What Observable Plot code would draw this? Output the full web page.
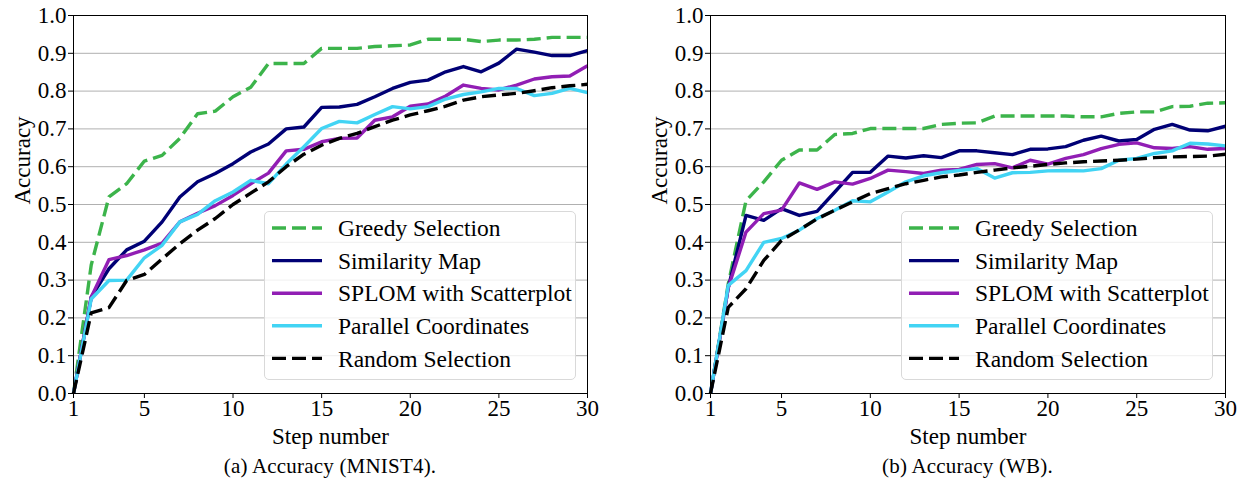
<!DOCTYPE html>
<html>
<head>
<meta charset="utf-8">
<script src="https://cdn.jsdelivr.net/npm/d3@7"></script>
<script src="https://cdn.jsdelivr.net/npm/@observablehq/plot@0.6"></script>
<style>
  html, body { margin: 0; padding: 0; background: #fff; }
  #root { position: relative; width: 1243px; height: 487px; overflow: hidden; font-family: "Liberation Serif", "Times New Roman", Times, serif; color: #000; }
  #root svg, #root svg text { font-family: "Liberation Serif", "Times New Roman", Times, serif !important; }
  .panel { position: absolute; top: 0; height: 487px; }
  .caption { position: absolute; font-size: 21px; letter-spacing: 0.2px; white-space: nowrap; transform: translate(-50%, -50%); }
  .legend { position: absolute; background: rgba(255,255,255,0.8); border: 1px solid #d9d9d9; border-radius: 5px; box-sizing: border-box; }
</style>
</head>
<body>
<div id="root"></div>
<script>
const steps = [1,2,3,4,5,6,7,8,9,10,11,12,13,14,15,16,17,18,19,20,21,22,23,24,25,26,27,28,29,30];
const xTicks = [1,5,10,15,20,25,30];
const yTicks = [0,0.1,0.2,0.3,0.4,0.5,0.6,0.7,0.8,0.9,1.0];
const xLabel = "Step number";
const yLabel = "Accuracy";

const seriesNames = ["Greedy Selection","Similarity Map","SPLOM with Scatterplot","Parallel Coordinates","Random Selection"];
const seriesColors = ["#3cb44b","#000075","#911eb4","#42d4f4","#000000"];
const seriesDashes = ["14,6",null,null,null,"14,6"];

// (a) MNIST4
const mnistGreedy   = [0,0.34,0.52,0.555,0.615,0.63,0.675,0.74,0.747,0.785,0.81,0.873,0.873,0.873,0.913,0.913,0.913,0.918,0.92,0.922,0.937,0.937,0.937,0.931,0.935,0.935,0.937,0.942,0.942,0.942];
const mnistSim      = [0,0.255,0.33,0.38,0.403,0.454,0.52,0.56,0.582,0.608,0.639,0.66,0.70,0.705,0.757,0.758,0.765,0.785,0.807,0.823,0.829,0.851,0.865,0.851,0.874,0.911,0.903,0.894,0.894,0.907];
const mnistSplom    = [0,0.255,0.354,0.365,0.38,0.398,0.454,0.477,0.497,0.524,0.555,0.583,0.642,0.646,0.666,0.675,0.676,0.723,0.732,0.76,0.766,0.787,0.816,0.807,0.803,0.816,0.832,0.838,0.84,0.867];
const mnistParallel = [0,0.25,0.299,0.30,0.359,0.392,0.454,0.474,0.51,0.533,0.564,0.555,0.607,0.653,0.701,0.72,0.716,0.738,0.759,0.753,0.759,0.779,0.791,0.798,0.807,0.807,0.788,0.794,0.807,0.796];
const mnistRandom   = [0,0.213,0.227,0.299,0.315,0.356,0.396,0.432,0.463,0.50,0.53,0.56,0.60,0.633,0.657,0.675,0.688,0.706,0.723,0.737,0.748,0.76,0.776,0.785,0.79,0.794,0.801,0.809,0.814,0.818];

// (b) WB
const wbGreedy   = [0,0.29,0.51,0.56,0.617,0.644,0.644,0.685,0.688,0.701,0.701,0.701,0.701,0.712,0.715,0.716,0.734,0.734,0.734,0.734,0.734,0.732,0.732,0.741,0.745,0.745,0.759,0.76,0.768,0.769];
const wbSim      = [0,0.28,0.471,0.458,0.489,0.471,0.482,0.533,0.585,0.585,0.628,0.623,0.629,0.624,0.642,0.642,0.637,0.632,0.646,0.647,0.653,0.67,0.681,0.668,0.672,0.699,0.712,0.697,0.695,0.707];
const wbSplom    = [0,0.28,0.427,0.476,0.485,0.557,0.54,0.56,0.554,0.569,0.591,0.587,0.582,0.591,0.593,0.606,0.608,0.597,0.617,0.607,0.622,0.632,0.648,0.659,0.663,0.65,0.648,0.653,0.646,0.648];
const wbParallel = [0,0.286,0.325,0.40,0.41,0.432,0.463,0.485,0.51,0.507,0.533,0.56,0.576,0.584,0.59,0.595,0.57,0.584,0.585,0.589,0.59,0.589,0.595,0.617,0.622,0.635,0.642,0.662,0.66,0.655];
const wbRandom   = [0,0.228,0.277,0.352,0.405,0.433,0.462,0.485,0.507,0.529,0.542,0.555,0.564,0.573,0.578,0.585,0.591,0.597,0.601,0.606,0.61,0.613,0.615,0.617,0.62,0.624,0.626,0.627,0.628,0.633];

const panels = [
  {left: 0, width: 621, marginLeft: 73, marginRight: 34, caption: "(a) Accuracy (MNIST4).",
   series: [mnistGreedy, mnistSim, mnistSplom, mnistParallel, mnistRandom], legendLeft: 264},
  {left: 621, width: 622, marginLeft: 89, marginRight: 18, caption: "(b) Accuracy (WB).",
   series: [wbGreedy, wbSim, wbSplom, wbParallel, wbRandom], legendLeft: 280}
];

const FONT = "'Liberation Serif', 'Times New Roman', Times, serif";
const root = document.getElementById("root");
const H = 450, mTop = 15, mBottom = 57;

for (const p of panels) {
  const div = document.createElement("div");
  div.className = "panel";
  div.style.left = p.left + "px";
  div.style.width = p.width + "px";
  root.appendChild(div);

  const lineMarks = p.series.map((vals, i) =>
    Plot.lineY(vals.map((v, j) => ({step: steps[j], acc: v})), {
      x: "step", y: "acc", stroke: seriesColors[i], strokeWidth: 3.4,
      strokeDasharray: seriesDashes[i] || undefined, strokeLinejoin: "round", strokeLinecap: "butt"
    })
  );

  const chart = Plot.plot({
    width: p.width, height: H,
    marginLeft: p.marginLeft, marginRight: p.marginRight, marginTop: mTop, marginBottom: mBottom,
    style: {fontFamily: FONT, fontSize: "23px", background: "transparent", color: "#000", overflow: "visible"},
    x: {domain: [1, 30]},
    y: {domain: [0, 1]},
    marks: [
      Plot.gridY(yTicks, {stroke: "#b0b0b0", strokeOpacity: 1, strokeWidth: 1}),
      ...lineMarks,
      Plot.frame({stroke: "#000", strokeWidth: 1}),
      Plot.axisX(xTicks, {tickSize: 5, tickPadding: 1, label: null, fontSize: 23, tickFormat: d => String(d)}),
      Plot.axisY(yTicks, {tickSize: 5, tickPadding: 2, label: null, fontSize: 23, tickFormat: d3.format(".1f")}),
      Plot.text([xLabel], {text: d => d, frameAnchor: "bottom", dy: 43, lineAnchor: "middle", fontSize: 23, fill: "#000"}),
      Plot.text([yLabel], {text: d => d, frameAnchor: "left", dx: -51, rotate: -90, lineAnchor: "middle", fontSize: 23, fill: "#000"})
    ]
  });
  chart.style.position = "absolute";
  chart.style.left = "0px";
  chart.style.top = "0px";
  div.appendChild(chart);

  // legend
  const leg = document.createElement("div");
  leg.className = "legend";
  leg.style.left = p.legendLeft + "px";
  leg.style.top = "211px";
  leg.style.width = "312px";
  leg.style.height = "169px";
  const ns = "http://www.w3.org/2000/svg";
  const svg = document.createElementNS(ns, "svg");
  svg.setAttribute("width", 310);
  svg.setAttribute("height", 167);
  svg.style.position = "absolute";
  svg.style.left = "0px";
  svg.style.top = "0px";
  seriesNames.forEach((name, i) => {
    const cy = 16 + i * 32.6;
    const ln = document.createElementNS(ns, "line");
    ln.setAttribute("x1", 7); ln.setAttribute("x2", 57);
    ln.setAttribute("y1", cy); ln.setAttribute("y2", cy);
    ln.setAttribute("stroke", seriesColors[i]);
    ln.setAttribute("stroke-width", 3.4);
    if (seriesDashes[i]) ln.setAttribute("stroke-dasharray", seriesDashes[i]);
    svg.appendChild(ln);
    const tx = document.createElementNS(ns, "text");
    tx.setAttribute("x", 73);
    tx.setAttribute("y", cy);
    tx.setAttribute("dy", "0.35em");
    tx.style.fontFamily = FONT;
    tx.style.fontSize = "23.5px";
    tx.textContent = name;
    svg.appendChild(tx);
  });
  leg.appendChild(svg);
  div.appendChild(leg);

  const cap = document.createElement("div");
  cap.className = "caption";
  cap.textContent = p.caption;
  cap.style.left = (p.marginLeft + (p.width - p.marginLeft - p.marginRight) / 2) + "px";
  cap.style.top = "466px";
  div.appendChild(cap);
}
</script>
</body>
</html>
